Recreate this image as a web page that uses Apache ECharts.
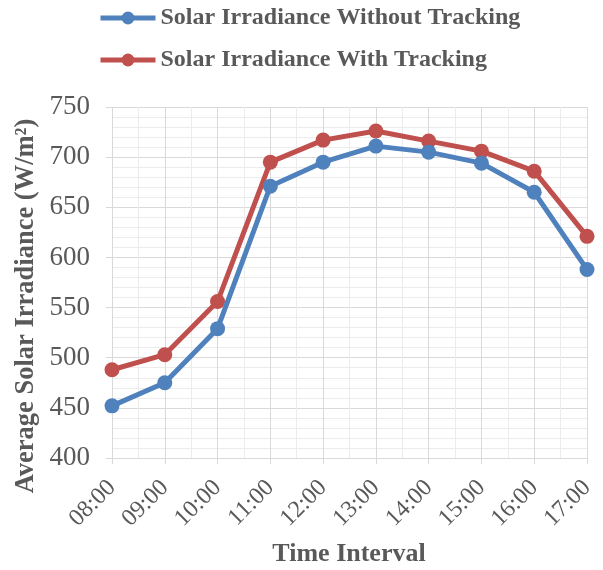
<!DOCTYPE html>
<html>
<head>
<meta charset="utf-8">
<script src="https://cdn.jsdelivr.net/npm/echarts@6/dist/echarts.min.js"></script>
<style>
  html, body { margin: 0; padding: 0; background: #fff; }
  #chart { width: 603px; height: 570px; }
</style>
</head>
<body>
<div id="chart"></div>
<script>
// 数据
var times = ['08:00', '09:00', '10:00', '11:00', '12:00', '13:00', '14:00', '15:00', '16:00', '17:00'];
var withoutTracking = [452, 475, 529, 671, 695, 711, 705, 694, 665, 588];
var withTracking = [488, 503, 556, 695, 717, 726, 716, 706, 686, 621];

var font = 'Liberation Serif';
var textColor = '#595959';

var chart = echarts.init(document.getElementById('chart'));
var option = {
    animation: false,
    color: ['#4F81BD', '#C0504D'],
    legend: {
        orient: 'vertical',
        left: 98,
        top: 5,
        padding: 0,
        itemWidth: 55,
        itemHeight: 16,
        itemGap: 16,
        lineStyle: { width: 5 },
        textStyle: {
            fontFamily: font,
            fontWeight: 'bold',
            fontSize: 24,
            lineHeight: 26,
            color: textColor
        }
    },
    grid: {
        left: 112,
        right: 16,
        top: 107,
        bottom: 112,
        containLabel: false
    },
    xAxis: [
        {
            type: 'category',
            data: times,
            boundaryGap: false,
            axisLine: { lineStyle: { color: '#d9d9d9', width: 1 } },
            axisTick: { show: true, length: 6, lineStyle: { color: '#d9d9d9' } },
            axisLabel: {
                rotate: 45,
                margin: 26,
                fontFamily: font,
                fontSize: 24,
                color: textColor
            },
            splitLine: { show: false }
        },
        {
            // 辅助坐标轴: 画竖向网格线
            type: 'value',
            min: 0,
            max: times.length - 1,
            interval: 1,
            position: 'bottom',
            show: true,
            axisLine: { show: false },
            axisTick: { show: false },
            axisLabel: { show: false },
            splitLine: { show: true, lineStyle: { color: '#d9d9d9', width: 1 } },
            minorTick: { show: false, splitNumber: 2 },
            minorSplitLine: { show: true, lineStyle: { color: '#ececec', width: 1 } }
        }
    ],
    yAxis: {
        type: 'value',
        min: 400,
        max: 750,
        interval: 50,
        axisLine: { show: false },
        axisTick: { show: true, length: 6, lineStyle: { color: '#d9d9d9' } },
        axisLabel: {
            margin: 22,
            fontFamily: font,
            fontSize: 27,
            color: textColor
        },
        splitLine: { show: true, lineStyle: { color: '#d9d9d9', width: 1 } },
        minorTick: { show: false, splitNumber: 5 },
        minorSplitLine: { show: true, lineStyle: { color: '#ececec', width: 1 } }
    },
    graphic: [
        {
            type: 'text',
            x: 349,
            y: 554,
            style: {
                text: 'Time Interval',
                font: 'bold 26px "' + font + '"',
                fill: textColor,
                align: 'center',
                verticalAlign: 'middle'
            }
        },
        {
            type: 'text',
            x: 26,
            y: 306,
            rotation: Math.PI / 2,
            style: {
                text: 'Average Solar Irradiance (W/m²)',
                font: 'bold 26.5px "' + font + '"',
                fill: textColor,
                align: 'center',
                verticalAlign: 'middle'
            }
        }
    ],
    series: [
        {
            name: 'Solar Irradiance Without Tracking',
            type: 'line',
            data: withoutTracking,
            symbol: 'circle',
            symbolSize: 15,
            lineStyle: { width: 5 },
            z: 3
        },
        {
            name: 'Solar Irradiance With Tracking',
            type: 'line',
            data: withTracking,
            symbol: 'circle',
            symbolSize: 15,
            lineStyle: { width: 5 },
            z: 2
        }
    ]
};
chart.setOption(option);
</script>
</body>
</html>
